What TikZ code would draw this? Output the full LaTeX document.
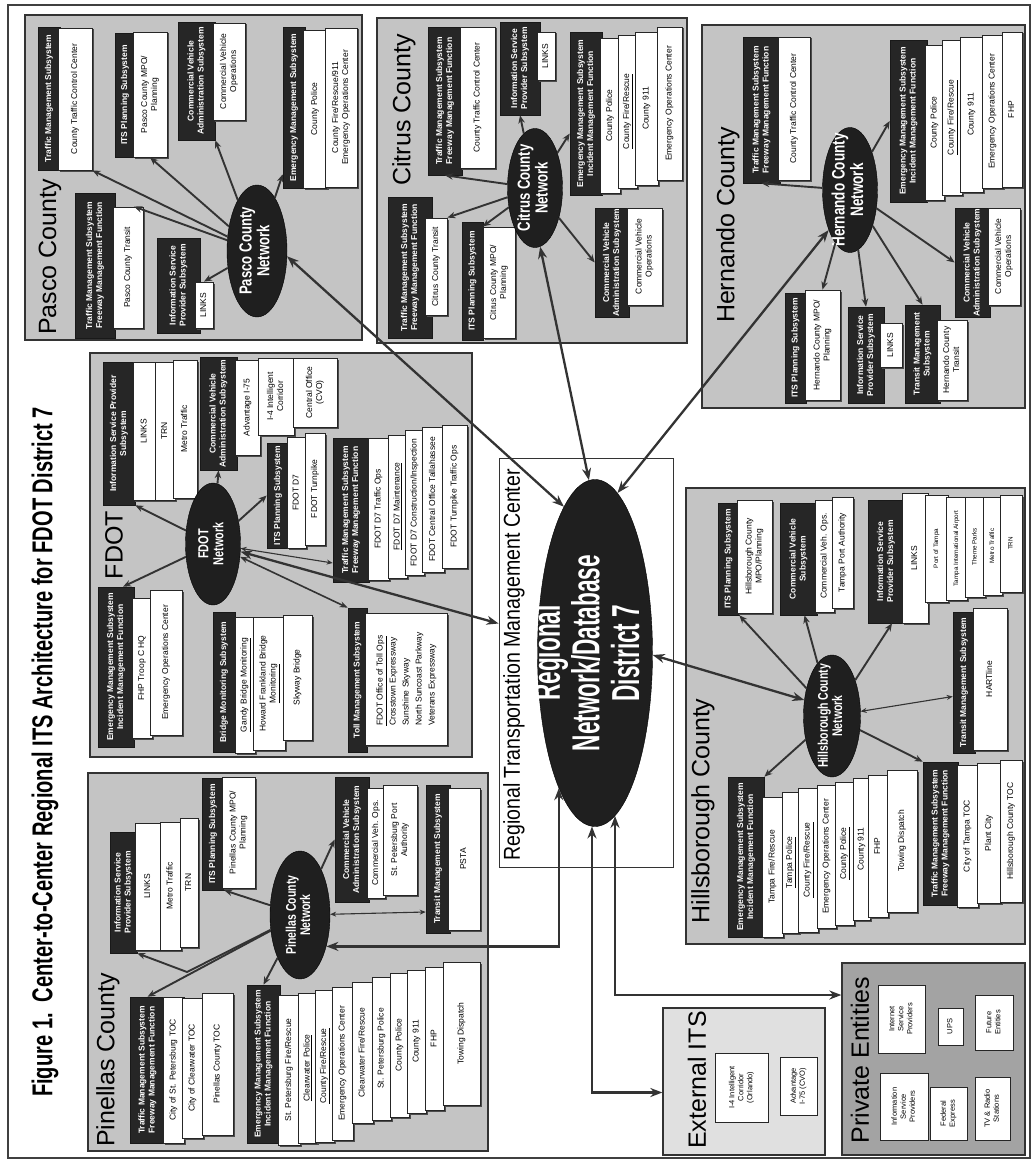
\documentclass[tikz,border=0pt]{standalone}
\usepackage{graphicx}
\usepackage{fontspec}
\setmainfont{Liberation Sans}
\newfontfamily\condA[FakeStretch=0.75]{Liberation Sans}
\newfontfamily\condT[FakeStretch=0.7]{Liberation Sans}
\newfontfamily\condR[FakeStretch=0.58]{Liberation Sans}
\newfontfamily\condC[FakeStretch=0.85]{Liberation Sans}
\usetikzlibrary{arrows.meta,shapes.geometric,shadows}
\newcommand\rt[1]{\rotatebox{90}{\begin{tabular}{@{}c@{}}#1\end{tabular}}}
\newcommand\rtl[1]{\rotatebox{90}{\begin{tabular}{@{}l@{}}#1\end{tabular}}}
% box: name, style, x1, y1, x2, y2, text
\newcommand\bx[7]{%
  \pgfmathsetmacro\bw{#5-#3}%
  \pgfmathsetmacro\bh{#6-#4}%
  \pgfmathsetmacro\bcx{(#3+#5)/2}%
  \pgfmathsetmacro\bcy{(#4+#6)/2}%
  \node[#2, minimum width=\bw pt, minimum height=\bh pt] (#1) at (\bcx,\bcy) {};%
  \node[#2T] at (#1.center) {\rt{#7}};}
% plain area: name, style, x1, y1, x2, y2
\newcommand\area[6]{%
  \pgfmathsetmacro\bw{#5-#3}%
  \pgfmathsetmacro\bh{#6-#4}%
  \pgfmathsetmacro\bcx{(#3+#5)/2}%
  \pgfmathsetmacro\bcy{(#4+#6)/2}%
  \node[#2, minimum width=\bw pt, minimum height=\bh pt] (#1) at (\bcx,\bcy) {};}
% network ellipse: name, cx, cy, w, h, font size, text
\newcommand\nt[7]{%
  \node[net, minimum width=#4pt, minimum height=#5pt] (#1) at (#2,#3) {};%
  \node[text=white, inner sep=0, font=\condA\bfseries\fontsize{#6}{#6}\selectfont] at (#1.center) {\rt{#7}};}
\begin{document}
\begin{tikzpicture}[x=1pt,y=-1pt,
  cbox/.style={draw=black!80, line width=1.3pt, fill=black!23, inner sep=0},
  wbox/.style={draw=black!80, line width=0.9pt, fill=white, inner sep=0},
  ebox/.style={draw=black!80, line width=1.3pt, fill=black!12, inner sep=0},
  pbox/.style={draw=black!80, line width=1.3pt, fill=black!36, inner sep=0},
  shd/.style={drop shadow={fill=black!70, opacity=1, shadow xshift=1.5pt, shadow yshift=-1.5pt}},
  hdr/.style={draw=black!90, fill=black!85, line width=0.6pt, inner sep=0},
  hdrT/.style={text=white, font=\fontsize{8.5}{10}\selectfont\bfseries, inner sep=0},
  wb/.style={draw=black!85, fill=white, line width=0.8pt, inner sep=0, shd},
  wbT/.style={text=black, font=\fontsize{8.5}{10}\selectfont, inner sep=0},
  ws/.style={draw=black!85, fill=white, line width=0.8pt, inner sep=0, shd},
  wsT/.style={text=black, font=\fontsize{6.3}{7.5}\selectfont, inner sep=0},
  wp/.style={draw=black!85, fill=white, line width=0.8pt, inner sep=0},
  wpT/.style={text=black, font=\fontsize{7.5}{9}\selectfont, inner sep=0},
  net/.style={ellipse, fill=black!88, draw=black, inner sep=0},
  lbl/.style={font=\fontsize{25}{28}\selectfont, inner sep=0},
  arr/.style={draw=black!80, line width=1.9pt, -{Stealth[length=8pt,width=6.5pt]}},
  tarr/.style={draw=black!80, line width=1.1pt, {Stealth[length=6pt,width=5pt]}-{Stealth[length=6pt,width=5pt]}},
  marr/.style={draw=black!80, line width=1.6pt, {Stealth[length=8pt,width=6pt]}-{Stealth[length=8pt,width=6pt]}},
  barr/.style={draw=black!80, line width=2.3pt, {Stealth[length=12pt,width=9pt]}-{Stealth[length=12pt,width=9pt]}}]
\useasboundingbox (0,0) rectangle (1034,1164);
\fill[white] (0,0) rectangle (1034,1164);
\draw[line width=1.2pt, black!75] (8,5) rectangle (1030,1158);

% title
\node[font=\condT\bfseries\fontsize{28.7}{31}\selectfont, inner sep=0] (title) at (45,752)
  {\rotatebox{90}{Figure 1.\ \ Center-to-Center Regional ITS Architecture for FDOT District 7}};

% areas
\area{pasco}{cbox}{25}{15}{362}{340}
\area{citrus}{cbox}{377}{18}{687}{343}
\area{hernando}{cbox}{702}{25}{1025}{408}
\area{fdot}{cbox}{90}{353}{472}{757}
\area{pinellas}{cbox}{88}{773}{488}{1151}
\area{hills}{cbox}{686}{488}{1025}{944}
\area{rtmc}{wbox}{499}{458}{673}{867}
\area{ext}{ebox}{663}{1008}{825}{1155}
\area{priv}{pbox}{842}{963}{1025}{1155}

% labels
\node[lbl] (lb_pasco) at (50,257) {\rotatebox{90}{Pasco County}};
\node[lbl] (lb_citrus) at (404,110) {\rotatebox{90}{Citrus County}};
\node[lbl] (lb_hern) at (728,225) {\rotatebox{90}{Hernando County}};
\node[lbl] (lb_fdot) at (114,545) {\rotatebox{90}{FDOT}};
\node[lbl] (lb_pin) at (108,1060) {\rotatebox{90}{Pinellas County}};
\node[lbl] (lb_hills) at (703,811) {\rotatebox{90}{Hillsborough County}};
\node[lbl] (lb_ext) at (697,1080) {\rotatebox{90}{External ITS}};
\node[lbl] (lb_priv) at (860,1060) {\rotatebox{90}{Private Entities}};
\node[font=\condC\fontsize{23}{26}\selectfont, inner sep=0] (lb_rtmc) at (514,665)
  {\rotatebox{90}{Regional Transportation Management Center}};

% regional ellipse
\node[net, minimum width=115pt, minimum height=347pt] (reg) at (595,653) {};
\node[text=white, inner sep=0, font=\condR\bfseries\fontsize{39}{38}\selectfont] at (591,653)
  {\rt{Regional\\Network/Database\\District 7}};

% ---------- Pasco ----------
\bx{pa_tms_h}{hdr}{38}{27}{60}{170}{Traffic Management Subsystem}
\bx{pa_tms_1}{wb}{58}{28}{92}{170}{County Traffic Control Center}
\bx{pa_its_h}{hdr}{115}{33}{135}{157}{ITS Planning Subsystem}
\bx{pa_its_1}{wb}{133}{32}{167}{157}{Pasco County MPO/\\Planning}
\bx{pa_cv_h}{hdr}{178}{22}{215}{140}{Commercial Vehicle\\Administration Subsystem}
\bx{pa_cv_1}{wb}{213}{23}{245}{120}{Commercial Vehicle\\Operations}
\bx{pa_em_h}{hdr}{283}{27}{305}{188}{Emergency Management Subsystem}
\bx{pa_em_1}{wb}{303}{30}{327}{188}{County Police}
\bx{pa_em_2}{wb}{325}{28}{357}{187}{County Fire/Rescue/911\\Emergency Operations Center}
\bx{pa_fw_h}{hdr}{75}{193}{115}{338}{Traffic Management Subsystem\\Freeway Management Function}
\bx{pa_fw_1}{wb}{113}{207}{143}{328}{Pasco County Transit}
\bx{pa_isp_h}{hdr}{157}{238}{200}{333}{Information Service\\Provider Subsystem}
\bx{pa_isp_1}{wb}{195}{282}{213}{328}{LINKS}
\nt{pa_net}{257}{251}{60}{132}{17.5}{Pasco County\\Network}

% ---------- Citrus ----------
\bx{ci_tms_h}{hdr}{428}{27}{462}{175}{Traffic Management Subsystem\\Freeway Management Function}
\bx{ci_tms_1}{wb}{460}{27}{495}{168}{County Traffic Control Center}
\bx{ci_isp_h}{hdr}{500}{22}{540}{115}{Information Service\\Provider Subsystem}
\bx{ci_isp_1}{wb}{537}{32}{555}{80}{LINKS}
\bx{ci_em_h}{hdr}{570}{32}{602}{195}{Emergency Management Subsystem\\Incident Management Function}
\bx{ci_em_1}{wb}{600}{38}{620}{193}{County Police}
\bx{ci_em_2}{wb}{618}{35}{637}{188}{\underline{County Fire/Rescue}}
\bx{ci_em_3}{wb}{635}{32}{658}{185}{County 911}
\bx{ci_em_4}{wb}{657}{27}{682}{180}{Emergency Operations Center}
\bx{ci_fw_h}{hdr}{388}{197}{432}{338}{Traffic Management Subsystem\\Freeway Management Function}
\bx{ci_fw_1}{wb}{425}{218}{447}{315}{Citrus County Transit}
\bx{ci_its_h}{hdr}{462}{222}{483}{340}{ITS Planning Subsystem}
\bx{ci_its_1}{wb}{483}{227}{515}{338}{Citrus County MPO/\\Planning}
\bx{ci_cv_h}{hdr}{595}{208}{629}{317}{Commercial Vehicle\\Administration Subsystem}
\bx{ci_cv_1}{wb}{627}{208}{662}{305}{Commercial Vehicle\\Operations}
\nt{ci_net}{535}{188}{55}{119}{17.5}{Citrus County\\Network}

% ---------- Hernando ----------
\bx{he_tms_h}{hdr}{743}{37}{780}{183}{Traffic Management Subsystem\\Freeway Management Function}
\bx{he_tms_1}{wb}{778}{37}{810}{180}{County Traffic Control Center}
\bx{he_em_h}{hdr}{890}{40}{927}{202}{Emergency Management Subsystem\\Incident Management Function}
\bx{he_em_1}{wb}{925}{45}{944}{200}{County Police}
\bx{he_em_2}{wb}{942}{40}{962}{195}{\underline{County Fire/Rescue}}
\bx{he_em_3}{wb}{960}{37}{983}{192}{County 911}
\bx{he_em_4}{wb}{982}{35}{1003}{188}{Emergency Operations Center}
\bx{he_em_5}{wb}{1002}{32}{1022}{187}{FHP}
\bx{he_cv_h}{hdr}{955}{208}{990}{317}{Commercial Vehicle\\Administration Subsystem}
\bx{he_cv_1}{wb}{988}{208}{1020}{305}{Commercial Vehicle\\Operations}
\bx{he_its_h}{hdr}{785}{293}{806}{403}{ITS Planning Subsystem}
\bx{he_its_1}{wb}{805}{290}{840}{400}{Hernando County MPO/\\Planning}
\bx{he_isp_h}{hdr}{848}{307}{884}{403}{Information Service\\Provider Subsystem}
\bx{he_isp_1}{wb}{880}{323}{902}{367}{LINKS}
\bx{he_tr_h}{hdr}{905}{305}{940}{403}{Transit Management\\Subsystem}
\bx{he_tr_1}{wb}{937}{320}{967}{400}{Hernando County\\Transit}
\nt{he_net}{850}{190}{55}{125}{18}{Hernando County\\Network}

% ---------- FDOT ----------
\bx{fd_isp_h}{hdr}{103}{362}{135}{505}{Information Service Provider\\Subsystem}
\bx{fd_isp_1}{wb}{133}{362}{156}{500}{LINKS}
\bx{fd_isp_2}{wb}{155}{362}{175}{500}{TRN}
\bx{fd_isp_3}{wb}{173}{360}{197}{498}{Metro Traffic}
\bx{fd_cv_h}{hdr}{200}{357}{237}{470}{Commercial Vehicle\\Administration Subsystem}
\bx{fd_cv_1}{wb}{235}{360}{260}{455}{Advantage I-75}
\bx{fd_cv_2}{wb}{258}{358}{294}{435}{I-4 Intelligent\\Corridor}
\bx{fd_cv_3}{wb}{293}{358}{337}{427}{Central Office\\(CVO)}
\bx{fd_its_h}{hdr}{267}{443}{289}{548}{ITS Planning Subsystem}
\bx{fd_its_1}{wb}{287}{437}{306}{548}{FDOT D7}
\bx{fd_its_2}{wb}{305}{433}{325}{545}{FDOT Turnpike}
\bx{fd_tm_h}{hdr}{333}{438}{369}{582}{Traffic Management Subsystem\\Freeway Management Function}
\bx{fd_tm_1}{wb}{368}{438}{389}{580}{FDOT D7 Traffic Ops}
\bx{fd_tm_2}{wb}{388}{435}{407}{578}{\underline{FDOT D7 Maintenance}}
\bx{fd_tm_3}{wb}{405}{430}{424}{575}{FDOT D7 Construction/Inspection}
\bx{fd_tm_4}{wb}{422}{427}{444}{572}{FDOT Central Office Tallahassee}
\bx{fd_tm_5}{wb}{442}{425}{467}{568}{FDOT Turnpike Traffic Ops}
\bx{fd_em_h}{hdr}{98}{587}{134}{747}{Emergency Management Subsystem\\Incident Management Function}
\bx{fd_em_1}{wb}{132}{598}{152}{738}{FHP Troop C HQ}
\bx{fd_em_2}{wb}{150}{590}{182}{735}{Emergency Operations Center}
\bx{fd_br_h}{hdr}{213}{612}{235}{752}{Bridge Monitoring Subsystem}
\bx{fd_br_1}{wb}{235}{617}{255}{753}{\underline{Gandy Bridge Monitoring}}
\bx{fd_br_2}{wb}{253}{617}{285}{750}{Howard Frankland Bridge\\\underline{Monitoring}}
\bx{fd_br_3}{wb}{283}{615}{312}{740}{Skyway Bridge}
\bx{fd_to_h}{hdr}{348}{608}{367}{752}{Toll Management Subsystem}
\node[wb, minimum width=82pt, minimum height=132pt] (fd_to_1) at (406,679) {};
\node[wbT, font=\fontsize{8.5}{13}\selectfont] at (fd_to_1.center)
  {\rtl{\underline{FDOT Office of Toll Ops}\\Crosstown Expressway\\Sunshine Skyway\\North Suncoast Parkway\\Veterans Expressway}};
\nt{fd_net}{213}{544}{55}{122}{14.5}{FDOT\\Network}

% ---------- Pinellas ----------
\bx{pi_isp_h}{hdr}{110}{832}{137}{953}{Information Service\\Provider Subsystem}
\bx{pi_isp_1}{wb}{135}{823}{161}{950}{LINKS}
\bx{pi_isp_2}{wb}{160}{822}{181}{950}{Metro Traffic}
\bx{pi_isp_3}{wb}{180}{818}{198}{947}{TRN}
\bx{pi_its_h}{hdr}{202}{778}{224}{890}{ITS Planning Subsystem}
\bx{pi_its_1}{wb}{222}{777}{255}{888}{Pinellas County MPO/\\Planning}
\bx{pi_cv_h}{hdr}{335}{777}{369}{902}{Commercial Vehicle\\Administration Subsystem}
\bx{pi_cv_1}{wb}{367}{788}{385}{898}{Commercial Veh. Ops.}
\bx{pi_cv_2}{wb}{383}{785}{417}{895}{St. Petersburg Port\\Authority}
\bx{pi_tr_h}{hdr}{426}{785}{450}{933}{Transit Management Subsystem}
\bx{pi_tr_1}{wb}{448}{788}{480}{930}{PSTA}
\bx{pi_tm_h}{hdr}{130}{997}{165}{1143}{Traffic Management Subsystem\\Freeway Management Function}
\bx{pi_tm_1}{wb}{163}{997}{184}{1143}{City of St. Petersburg TOC}
\bx{pi_tm_2}{wb}{182}{998}{203}{1138}{City of Clearwater TOC}
\bx{pi_tm_3}{wb}{202}{993}{233}{1135}{Pinellas County TOC}
\bx{pi_em_h}{hdr}{247}{985}{280}{1143}{Emergency Management Subsystem\\Incident Management Function}
\bx{pi_em_1}{wb}{278}{995}{300}{1145}{St. Petersburg Fire/Rescue}
\bx{pi_em_2}{wb}{298}{993}{317}{1143}{\underline{Clearwater Police}}
\bx{pi_em_3}{wb}{315}{990}{334}{1142}{\underline{County Fire/Rescue}}
\bx{pi_em_4}{wb}{332}{987}{353}{1140}{Emergency Operations Center}
\bx{pi_em_5}{wb}{352}{982}{373}{1123}{Clearwater Fire/Rescue}
\bx{pi_em_6}{wb}{372}{977}{391}{1120}{St. Petersburg Police}
\bx{pi_em_7}{wb}{390}{973}{409}{1117}{County Police}
\bx{pi_em_8}{wb}{407}{970}{426}{1113}{County 911}
\bx{pi_em_9}{wb}{425}{967}{444}{1110}{FHP}
\bx{pi_em_10}{wb}{443}{962}{480}{1105}{Towing Dispatch}
\nt{pi_net}{300}{915}{60}{128}{14}{Pinellas County\\Network}

% ---------- Hillsborough ----------
\bx{hi_its_h}{hdr}{718}{503}{739}{615}{ITS Planning Subsystem}
\bx{hi_its_1}{wb}{737}{500}{772}{613}{Hillsborough County\\MPO/Planning}
\bx{hi_cv_h}{hdr}{780}{503}{817}{615}{Commercial Vehicle\\Subsystem}
\bx{hi_cv_1}{wb}{815}{500}{834}{612}{Commercial Veh. Ops.}
\bx{hi_cv_2}{wb}{832}{497}{853}{608}{Tampa Port Authority}
\bx{hi_isp_h}{hdr}{868}{500}{904}{623}{Information Service\\Provider Subsystem}
\bx{hi_isp_1}{wb}{902}{493}{928}{623}{LINKS}
\bx{hi_isp_2}{ws}{925}{495}{948}{602}{Port of Tampa}
\bx{hi_isp_3}{ws}{946}{497}{967}{600}{Tampa International Airport}
\bx{hi_isp_4}{ws}{965}{497}{985}{597}{Theme Parks}
\bx{hi_isp_5}{ws}{983}{497}{1002}{595}{Metro Traffic}
\bx{hi_isp_6}{ws}{1000}{495}{1022}{592}{TRN}
\bx{hi_tr_h}{hdr}{953}{612}{975}{753}{Transit Management Subsystem}
\bx{hi_tr_1}{wb}{973}{608}{1007}{750}{HARTline}
\bx{hi_em_h}{hdr}{728}{777}{764}{937}{Emergency Management Subsystem\\Incident Management Function}
\bx{hi_em_1}{wb}{762}{797}{783}{937}{Tampa Fire/Rescue}
\bx{hi_em_2}{wb}{782}{792}{799}{933}{\underline{Tampa Police}}
\bx{hi_em_3}{wb}{798}{788}{818}{932}{\underline{County Fire/Rescue}}
\bx{hi_em_4}{wb}{817}{785}{836}{928}{Emergency Operations Center}
\bx{hi_em_5}{wb}{835}{782}{854}{925}{\underline{County Police}}
\bx{hi_em_6}{wb}{853}{778}{870}{920}{County 911}
\bx{hi_em_7}{wb}{868}{775}{888}{917}{FHP}
\bx{hi_em_8}{wb}{887}{770}{917}{912}{Towing Dispatch}
\bx{hi_tm_h}{hdr}{923}{762}{958}{905}{Traffic Management Subsystem\\Freeway Management Function}
\bx{hi_tm_1}{wb}{957}{765}{978}{907}{City of Tampa TOC}
\bx{hi_tm_2}{wb}{977}{763}{1001}{903}{Plant City}
\bx{hi_tm_3}{wb}{1000}{760}{1022}{902}{Hillsborough County TOC}
\nt{hi_net}{832}{716}{57}{122}{14}{Hillsborough County\\Network}

% ---------- External ITS ----------
\bx{ex_1}{wp}{715}{1053}{768}{1122}{I-4 Intelligent\\Corridor\\(Orlando)}
\bx{ex_2}{wp}{780}{1057}{817}{1115}{Advantage\\I-75 (CVO)}

% ---------- Private Entities ----------
\bx{pr_1}{wp}{880}{1073}{928}{1140}{Information\\Service\\Providers}
\bx{pr_2}{wp}{878}{985}{925}{1053}{Internet\\Service\\Providers}
\bx{pr_3}{wp}{938}{1008}{963}{1045}{UPS}
\bx{pr_4}{wp}{930}{1087}{967}{1140}{Federal\\Express}
\bx{pr_5}{wp}{975}{1077}{1010}{1140}{TV \& Radio\\Stations}
\bx{pr_6}{wp}{975}{995}{1013}{1050}{Future\\Entities}

% ---------- arrows: Pasco ----------
\draw[arr] (pa_net) -- (pa_tms_1.south east);
\draw[arr] (pa_net) -- ([xshift=6pt]pa_fw_1.north);
\draw[arr] (pa_net) -- (pa_its_1.south);
\draw[arr] (pa_net) -- (pa_cv_h.south east);
\draw[arr] (pa_net) -- ([yshift=14pt]pa_em_h.south west);
\draw[arr] (pa_net) -- (pa_isp_1.north);
% Citrus
\draw[arr] (ci_net) -- (ci_tms_h.south);
\draw[arr] (ci_net) -- (ci_fw_1.north east);
\draw[arr] (ci_net) -- (ci_its_1.north west);
\draw[arr] (ci_net) -- (ci_isp_h.south);
\draw[arr] (ci_net) -- ([yshift=-20pt]ci_em_h.west);
\draw[arr] (ci_net) -- (ci_cv_h.west);
% Hernando
\draw[arr] (he_net) -- (he_tms_h.south);
\draw[arr] (he_net) -- (he_em_h.west);
\draw[arr] (he_net) -- (he_cv_h.west);
\draw[arr] (he_net) -- (he_its_1.north);
\draw[arr] (he_net) -- (he_isp_h.north);
\draw[arr] (he_net) -- (he_tr_h.north);
% FDOT
\draw[arr] (fd_net) -- (fd_isp_h.south east);
\draw[arr] (fd_net) -- ([xshift=7pt]fd_em_h.north);
\draw[arr] (fd_net) -- (fd_cv_h.south);
\draw[arr] (fd_net) -- (fd_its_h.west);
\draw[tarr] (fd_net) -- ([yshift=-53pt]fd_tm_h.west);
\draw[marr] (fd_net) -- (fd_to_h.north west);
% Pinellas
\coordinate (pi_bend) at (187,972);
\draw[arr] (pi_net) -- (pi_tm_h.north);
\draw[arr] (pi_net) -- (pi_bend) -- (pi_isp_h.south east);
\draw[arr] (pi_net) -- (pi_its_h.south east);
\draw[arr] (pi_net) -- (pi_cv_h.west);
\draw[tarr] (pi_net) -- ([yshift=-53pt]pi_tr_h.west);
\draw[arr] (pi_net) -- (pi_em_h.north);
% Hillsborough
\draw[arr] (hi_net) -- (hi_its_h.south east);
\draw[arr] (hi_net) -- ([xshift=6pt]hi_cv_h.south);
\draw[arr] (hi_net) -- ([xshift=6pt]hi_isp_h.south);
\draw[tarr] (hi_net) -- ([yshift=-14pt]hi_tr_h.west);
\draw[arr] (hi_net) -- (hi_em_h.north east);
\draw[arr] (hi_net) -- (hi_tm_h.north west);

% ---------- regional links ----------
\draw[barr] (pa_net.-10) -- (reg.102);
\draw[barr] (ci_net.-85) -- (reg.92);
\draw[barr] (he_net.-118) -- (reg.82);
\draw[barr] (fd_net) -- ([yshift=39pt]rtmc.west);
\draw[barr] (reg.-2) -- (hi_net.150);
\draw[barr] (reg.-105.6) |- (pi_net.-50);
\draw[barr] (reg.-91) |- ([yshift=-11pt]ext.west);
\draw[barr] (reg.-83) |- ([yshift=64pt]priv.west);
\end{tikzpicture}
\end{document}
